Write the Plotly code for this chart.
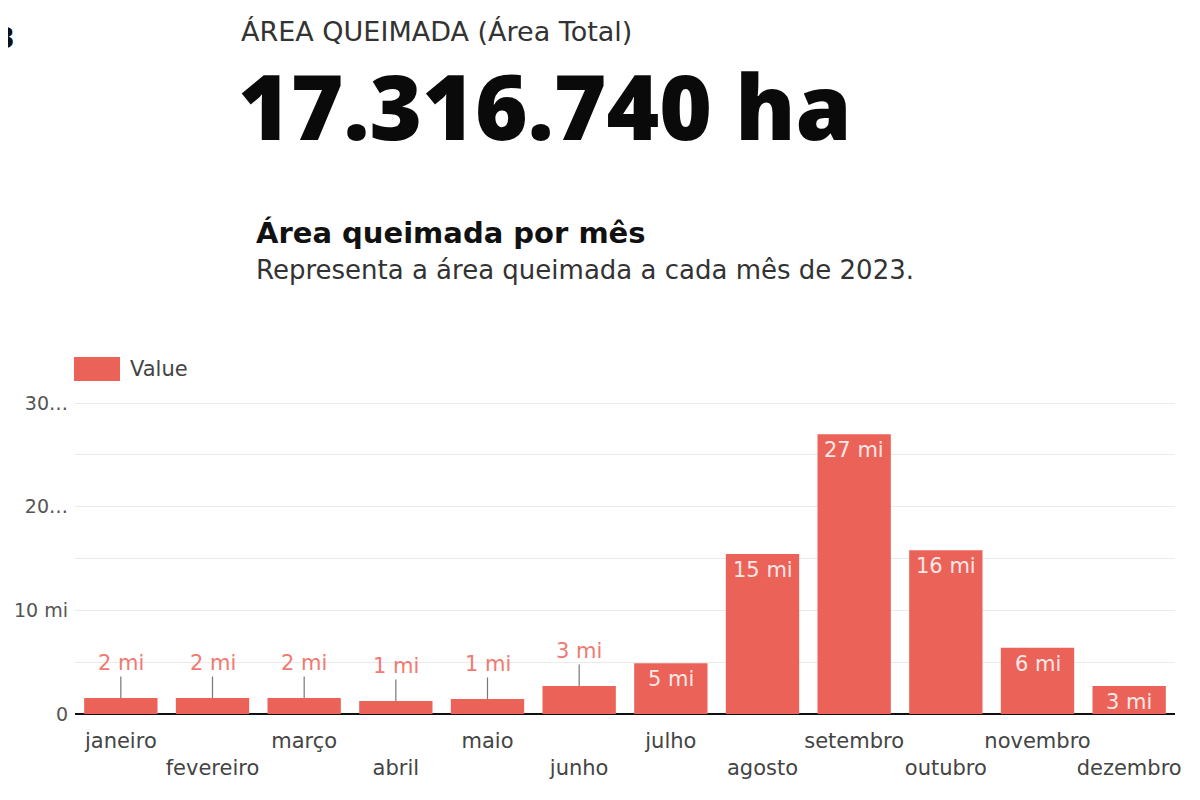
import plotly.graph_objects as go

months = ["janeiro", "fevereiro", "março", "abril", "maio", "junho",
          "julho", "agosto", "setembro", "outubro", "novembro", "dezembro"]
values_mi = [1.55, 1.55, 1.55, 1.26, 1.45, 2.7, 4.9, 15.45, 27.0, 15.8, 6.4, 2.7]
label_inside = [False, False, False, False, False, False, True, True, True, True, True, True]
y_tickvals = [0, 5, 10, 15, 20, 25, 30]
y_ticktext = ["0", "", "10 mi", "", "20…", "", "30…"]

total_text = "17.316.740 ha"
header_text = "ÁREA QUEIMADA (Área Total)"
title_text = "Área queimada por mês"
subtitle_text = "Representa a área queimada a cada mês de 2023."
legend_name = "Value"
corner_text = "2023"

FONT = "DejaVu Sans"
BIG_FONT = "Open Sans"
BAR = "#eb6259"
LABEL_OUT = "#f07a72"

tick_text_x = [m if i % 2 == 0 else "<br>" + m for i, m in enumerate(months)]

fig = go.Figure()
fig.add_trace(go.Bar(
    x=months, y=values_mi, marker=dict(color=BAR, line=dict(width=0)),
    name=legend_name, showlegend=False, hoverinfo="x+y",
))

annotations = []
for m, v, inside in zip(months, values_mi, label_inside):
    txt = f"{round(v + 1e-9):.0f} mi"
    if inside:
        annotations.append(dict(x=m, y=v, xref="x", yref="y", text=txt, showarrow=False,
                                yanchor="top", yshift=-2,
                                font=dict(family=FONT, size=21, color="#fde8e6")))
    else:
        annotations.append(dict(x=m, y=v, xref="x", yref="y", text=txt, showarrow=True,
                                arrowhead=0, arrowwidth=1.2, arrowcolor="#777777",
                                ax=0, ay=-35, standoff=0,
                                font=dict(family=FONT, size=21, color=LABEL_OUT)))

# page offset (default body margin) compensation
OFF = 8
W, H = 1200 - OFF, 800 - OFF
L, R, T, B = 67, 25, 392, 86
pw, ph = W - L - R, H - T - B

def px(x):
    return (x - OFF - L) / pw

def py(y):
    return (H - B - (y - OFF)) / ph

annotations += [
    dict(x=px(17), y=py(38), xref="paper", yref="paper", text=f"<b>{corner_text}</b>", showarrow=False,
         xanchor="right", yanchor="middle", font=dict(family=FONT, size=28, color="#111111")),
    dict(x=px(239), y=py(32), xref="paper", yref="paper", text=header_text, showarrow=False,
         xanchor="left", yanchor="middle", font=dict(family=FONT, size=27, color="#333333")),
    dict(x=px(236), y=py(105), xref="paper", yref="paper", text=total_text, showarrow=False,
         xanchor="left", yanchor="middle",
         font=dict(family=BIG_FONT, size=90, color="#0a0a0a", weight=800)),
    dict(x=px(254), y=py(233), xref="paper", yref="paper", text=f"<b>{title_text}</b>", showarrow=False,
         xanchor="left", yanchor="middle", font=dict(family=FONT, size=29, color="#111111")),
    dict(x=px(254), y=py(270), xref="paper", yref="paper", text=subtitle_text, showarrow=False,
         xanchor="left", yanchor="middle", font=dict(family=FONT, size=26, color="#333333")),
    dict(x=px(128), y=py(369), xref="paper", yref="paper", text=legend_name, showarrow=False,
         xanchor="left", yanchor="middle", font=dict(family=FONT, size=21, color="#444444")),
]

shapes = [dict(type="rect", xref="paper", yref="paper", x0=px(74), x1=px(120), y0=py(381), y1=py(357),
               fillcolor=BAR, line=dict(width=0))]

fig.update_layout(
    width=W, height=H,
    margin=dict(l=L, r=R, t=T, b=B, pad=0),
    paper_bgcolor="white", plot_bgcolor="white",
    bargap=0.2,
    font=dict(family=FONT, color="#444444"),
    annotations=annotations, shapes=shapes,
    xaxis=dict(tickmode="array", tickvals=months, ticktext=tick_text_x, tickangle=0,
               automargin=False,
               tickfont=dict(family=FONT, size=21, color="#444444"),
               showgrid=False, showline=False, ticks="", ticklabelstandoff=12, fixedrange=True),
    yaxis=dict(range=[0, 30.3], tickmode="array", tickvals=y_tickvals, ticktext=y_ticktext,
               automargin=False,
               tickfont=dict(family=FONT, size=19, color="#555555"),
               showgrid=True, gridcolor="#ebebeb", gridwidth=1,
               zeroline=True, zerolinecolor="#111111", zerolinewidth=2,
               showline=False, ticks="", ticklabelstandoff=6, fixedrange=True),
)

fig.write_html("out.html")
